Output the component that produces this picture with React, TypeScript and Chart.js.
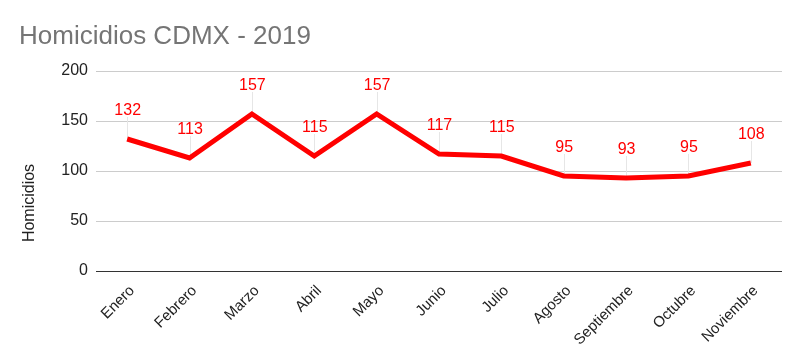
import React, { useEffect, useRef } from "react";
import { Chart, registerables } from "chart.js";

Chart.register(...registerables);

const TITLE = "Homicidios CDMX - 2019";
const Y_LABEL = "Homicidios";
const months = ["Enero", "Febrero", "Marzo", "Abril", "Mayo", "Junio", "Julio", "Agosto", "Septiembre", "Octubre", "Noviembre"];
const homicidios = [132, 113, 157, 115, 157, 117, 115, 95, 93, 95, 108];
const yTicks = [0, 50, 100, 150, 200];

const FONT = "Arial, 'Liberation Sans', sans-serif";

const decorPlugin = {
  id: "decor",
  beforeDatasetsDraw(chart: any) {
    const ctx = chart.ctx;
    const meta = chart.getDatasetMeta(0);
    ctx.save();
    ctx.strokeStyle = "#e6e6e6";
    ctx.lineWidth = 1;
    meta.data.forEach((pt: any) => {
      const x = Math.round(pt.x) + 0.5;
      ctx.beginPath();
      ctx.moveTo(x, pt.y);
      ctx.lineTo(x, pt.y - 22);
      ctx.stroke();
    });
    ctx.restore();
  },
  afterDraw(chart: any) {
    const ctx = chart.ctx;
    const meta = chart.getDatasetMeta(0);
    ctx.save();
    ctx.fillStyle = "#ff0000";
    ctx.font = "16px " + FONT;
    ctx.textAlign = "center";
    ctx.textBaseline = "alphabetic";
    meta.data.forEach((pt: any, i: number) => {
      ctx.fillText(String(homicidios[i]), pt.x + 0.5, pt.y - 24);
    });
    // title
    ctx.fillStyle = "#757575";
    ctx.font = "26px " + FONT;
    ctx.textAlign = "left";
    ctx.fillText(TITLE, 19, 44);
    // y axis label
    ctx.fillStyle = "#222222";
    ctx.font = "16px " + FONT;
    ctx.translate(34, 203);
    ctx.rotate(-Math.PI / 2);
    ctx.textAlign = "center";
    ctx.fillText(Y_LABEL, 0, 0);
    ctx.restore();
  },
};

export default function App() {
  const ref = useRef<HTMLCanvasElement | null>(null);
  useEffect(() => {
    document.body.style.margin = "0";
    const canvas = ref.current!;
    const chart = new Chart(canvas, {
      type: "line",
      data: {
        labels: months,
        datasets: [
          {
            data: homicidios,
            borderColor: "#ff0000",
            backgroundColor: "#ff0000",
            borderWidth: 5,
            pointRadius: 0,
            pointHoverRadius: 0,
            tension: 0,
            fill: false,
          },
        ],
      },
      options: {
        responsive: false,
        animation: false,
        layout: { padding: { left: 0, right: 18, top: 71, bottom: 0 } },
        plugins: {
          legend: { display: false },
          title: { display: false },
          tooltip: { enabled: false },
        },
        scales: {
          x: {
            offset: true,
            grid: { display: false, drawTicks: false },
            border: { display: false },
            ticks: {
              minRotation: 45,
              maxRotation: 45,
              padding: 11,
              labelOffset: 5,
              color: "#222222",
              font: { family: FONT, size: 15 },
              autoSkip: false,
            },
            afterFit(scale: any) {
              scale.height = 93;
            },
          },
          y: {
            min: 0,
            max: 200,
            afterBuildTicks(scale: any) {
              scale.ticks = yTicks.map((v) => ({ value: v }));
            },
            grid: {
              drawTicks: false,
              color: (c: any) => (c.tick && c.tick.value === 0 ? "#333333" : "#cccccc"),
              lineWidth: 1,
            },
            border: { display: false },
            ticks: {
              padding: 8,
              color: "#222222",
              font: { family: FONT, size: 16 },
            },
            afterFit(scale: any) {
              scale.width = 96;
            },
          },
        },
      },
      plugins: [decorPlugin],
    } as any);
    return () => chart.destroy();
  }, []);
  return <canvas ref={ref} width={800} height={364} style={{ display: "block" }} />;
}
